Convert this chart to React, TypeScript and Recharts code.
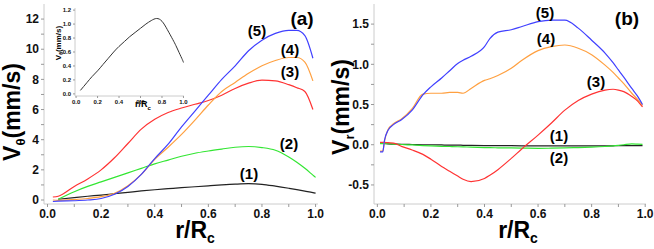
import { LineChart, Line, XAxis, YAxis } from 'recharts';

// panel (a): azimuthal velocity
const rA = [0.02, 0.04, 0.1, 0.15, 0.2, 0.25, 0.3, 0.35, 0.4, 0.45, 0.5, 0.55, 0.6, 0.65, 0.7, 0.75, 0.8, 0.85, 0.9, 0.93, 0.96, 0.99, 1.0];
const vt1 = [null, 0.05, 0.16, 0.25, 0.33, 0.42, 0.51, 0.6, 0.68, 0.75, 0.82, 0.88, 0.94, 1.0, 1.05, 1.08, 1.04, 0.92, 0.78, 0.69, 0.59, 0.49, 0.45];
const vt2 = [null, 0.05, 0.55, 0.9, 1.2, 1.5, 1.8, 2.1, 2.4, 2.65, 2.9, 3.1, 3.25, 3.38, 3.5, 3.55, 3.48, 3.3, 2.85, 2.5, 2.1, 1.65, 1.5];
const vt3 = [0.2, 0.25, 0.9, 1.4, 2.0, 2.8, 3.75, 4.7, 5.35, 5.8, 6.1, 6.35, 6.6, 6.95, 7.4, 7.75, 7.95, 7.9, 7.65, 7.45, 7.2, 6.0, null];
const vt4 = [0.0, -0.02, 0.03, 0.1, 0.22, 0.45, 0.95, 1.7, 2.7, 3.5, 4.35, 5.3, 6.3, 7.2, 7.8, 8.4, 8.9, 9.25, 9.45, 9.45, 9.15, 7.9, null];
const vt5 = [-0.1, -0.08, -0.05, 0.0, 0.1, 0.38, 0.9, 1.7, 2.75, 3.7, 4.85, 5.9, 6.95, 8.0, 8.9, 9.9, 10.6, 11.05, 11.25, 11.25, 10.9, 9.4, null];

// panel (b): radial velocity
const rB = [0.01, 0.02, 0.027, 0.04, 0.06, 0.09, 0.13, 0.17, 0.2, 0.24, 0.27, 0.3, 0.32, 0.35, 0.4, 0.42, 0.45, 0.5, 0.54, 0.6, 0.65, 0.7, 0.75, 0.8, 0.85, 0.88, 0.9, 0.92, 0.95, 0.97, 0.99];
const vr1 = [null, 0.02, 0.015, 0.01, 0.008, 0.005, 0.003, 0.0, 0.0, -0.003, -0.005, -0.005, -0.007, -0.008, -0.01, -0.011, -0.012, -0.012, -0.013, -0.015, -0.015, -0.015, -0.015, -0.015, -0.014, -0.013, -0.012, -0.012, -0.011, -0.01, -0.01];
const vr2 = [0.015, 0.015, 0.014, 0.012, 0.008, 0.003, -0.003, -0.01, -0.015, -0.02, -0.022, -0.025, -0.027, -0.03, -0.035, -0.037, -0.038, -0.04, -0.042, -0.045, -0.043, -0.04, -0.035, -0.03, -0.022, -0.015, -0.008, 0.0, 0.01, 0.008, 0.005];
const vr3 = [0.03, 0.03, 0.03, 0.025, 0.02, -0.02, -0.065, -0.12, -0.18, -0.27, -0.33, -0.39, -0.43, -0.46, -0.42, -0.38, -0.31, -0.17, -0.05, 0.12, 0.27, 0.43, 0.55, 0.63, 0.68, 0.69, 0.68, 0.66, 0.6, 0.55, 0.47];
const vr4 = [-0.08, -0.08, 0.05, 0.19, 0.26, 0.32, 0.45, 0.63, 0.64, 0.64, 0.65, 0.65, 0.64, 0.7, 0.8, 0.82, 0.86, 0.95, 1.05, 1.17, 1.22, 1.24, 1.2, 1.12, 0.99, 0.9, 0.83, 0.76, 0.64, 0.57, 0.49];
const vr5 = [-0.09, -0.09, 0.06, 0.18, 0.25, 0.31, 0.43, 0.62, 0.72, 0.83, 0.92, 1.01, 1.05, 1.1, 1.22, 1.32, 1.4, 1.43, 1.47, 1.53, 1.55, 1.55, 1.45, 1.3, 1.14, 1.02, 0.93, 0.84, 0.7, 0.61, 0.5];

const xTicks = [0, 0.1, 0.2, 0.3, 0.4, 0.5, 0.6, 0.7, 0.8, 0.9, 1.0];
const yTicksA = [0, 1, 2, 3, 4, 5, 6, 7, 8, 9, 10, 11, 12];
const yTicksB = [-0.5, -0.25, 0, 0.25, 0.5, 0.75, 1, 1.25, 1.5];
const insetXTicks = [0, 0.2, 0.4, 0.6, 0.8, 1.0];
const insetYTicks = [0, 0.2, 0.4, 0.6, 0.8, 1.0, 1.2];

const COLORS = ['#222222', '#33e633', '#ff3333', '#ffa040', '#4040ff'];
const FRAME = '#cccccc';
const FONT = '"Liberation Sans", Arial, Helvetica, sans-serif';

const dataA = rA.map((r, i) => ({ r, s1: vt1[i], s2: vt2[i], s3: vt3[i], s4: vt4[i], s5: vt5[i] }));
const dataB = rB.map((r, i) => ({ r, s1: vr1[i], s2: vr2[i], s3: vr3[i], s4: vr4[i], s5: vr5[i] }));
const dataInset = rA.map((r, i) => ({ r, v: vt1[i] })).filter((d) => d.v !== null);

const tickStyle = { fontSize: 12, fontWeight: 'bold', fill: '#111', fontFamily: FONT };
const fmtX = (v: number) => (Math.round(v * 10) % 2 === 0 ? v.toFixed(1) : '');
const fmtYA = (v: number) => (v % 2 === 0 ? String(v) : '');
const fmtYB = (v: number) => (Math.round(v * 4) % 2 === 0 ? v.toFixed(1) : '');

function Panel({ data, xDomain, yDomain, yTicks, fmtY, width, marginRight }: any) {
  return (
    <LineChart width={width} height={249} data={data} margin={{ top: 4, right: marginRight, bottom: 0, left: 0 }}>
      <XAxis
        type="number"
        dataKey="r"
        domain={xDomain}
        ticks={xTicks}
        interval={0}
        tickFormatter={fmtX}
        tickSize={3}
        height={45}
        axisLine={{ stroke: FRAME }}
        tickLine={{ stroke: '#999' }}
        tick={tickStyle}
      />
      <XAxis xAxisId="top" orientation="top" type="number" dataKey="r" domain={xDomain} height={0} tick={false} tickLine={false} axisLine={{ stroke: FRAME }} />
      <YAxis
        type="number"
        domain={yDomain}
        ticks={yTicks}
        interval={0}
        tickFormatter={fmtY}
        tickSize={3}
        width={44}
        axisLine={{ stroke: FRAME }}
        tickLine={{ stroke: '#999' }}
        tick={tickStyle}
      />
      <YAxis yAxisId="right" orientation="right" domain={yDomain} width={0} tick={false} tickLine={false} axisLine={{ stroke: FRAME }} />
      {['s1', 's2', 's3', 's4', 's5'].map((k, i) => (
        <Line key={k} type="monotone" dataKey={k} stroke={COLORS[i]} strokeWidth={1.2} dot={false} isAnimationActive={false} />
      ))}
    </LineChart>
  );
}

const label = { fontFamily: FONT, fontWeight: 'bold', fill: '#000' } as const;

export default function App() {
  return (
    <div style={{ position: 'absolute', left: 0, top: 0, width: 654, height: 249, background: '#fff' }}>
      <div style={{ position: 'absolute', left: 0, top: 0 }}>
        <Panel data={dataA} xDomain={[-0.013, 1.009]} yDomain={[-0.265, 13]} yTicks={yTicksA} fmtY={fmtYA} width={330} marginRight={12} />
      </div>
      <div style={{ position: 'absolute', left: 330, top: 0 }}>
        <Panel data={dataB} xDomain={[-0.0125, 1.003]} yDomain={[-0.737, 1.75]} yTicks={yTicksB} fmtY={fmtYB} width={324} marginRight={8} />
      </div>
      <div style={{ position: 'absolute', left: 50, top: 0 }}>
        <LineChart width={140} height={112} data={dataInset} margin={{ top: 8, right: 6, bottom: 0, left: 0 }}>
          <XAxis
            type="number"
            dataKey="r"
            domain={[-0.01, 1.005]}
            ticks={insetXTicks}
            interval={0}
            tickFormatter={(v: number) => v.toFixed(1)}
            tickSize={2}
            height={16}
            axisLine={{ stroke: FRAME }}
            tickLine={{ stroke: '#999' }}
            tick={{ ...tickStyle, fontSize: 6 }}
          />
          <XAxis xAxisId="top" orientation="top" type="number" dataKey="r" domain={[-0.01, 1.005]} height={0} tick={false} tickLine={false} axisLine={{ stroke: FRAME }} />
          <YAxis
            type="number"
            domain={[-0.03, 1.23]}
            ticks={insetYTicks}
            interval={0}
            tickFormatter={(v: number) => v.toFixed(1)}
            tickSize={2}
            width={25}
            axisLine={{ stroke: FRAME }}
            tickLine={{ stroke: '#999' }}
            tick={{ ...tickStyle, fontSize: 6 }}
          />
          <YAxis yAxisId="right" orientation="right" domain={[-0.03, 1.23]} width={0} tick={false} tickLine={false} axisLine={{ stroke: FRAME }} />
          <Line type="natural" dataKey="v" stroke="#333" strokeWidth={1} dot={false} isAnimationActive={false} />
        </LineChart>
      </div>
      <svg width={654} height={249} style={{ position: 'absolute', left: 0, top: 0, pointerEvents: 'none' }}>
        {/* axis titles */}
        <text {...label} fontSize={23} transform="translate(20,112) rotate(-90)" textAnchor="middle">
          V<tspan fontSize={13} dy={5}>θ</tspan>
          <tspan dy={-5}>(mm/s)</tspan>
        </text>
        <text {...label} fontSize={23} transform="translate(349,107) rotate(-90)" textAnchor="middle">
          V<tspan fontSize={13} dy={5}>r</tspan>
          <tspan dy={-5}>(mm/s)</tspan>
        </text>
        <text {...label} fontSize={23} x={195} y={238} textAnchor="middle">
          r/R<tspan fontSize={14} dy={5}>c</tspan>
        </text>
        <text {...label} fontSize={23} x={518} y={238} textAnchor="middle">
          r/R<tspan fontSize={14} dy={5}>c</tspan>
        </text>
        {/* inset titles */}
        <text {...label} fontSize={8} transform="translate(61,43) rotate(-90)" textAnchor="middle">
          V<tspan fontSize={5} dy={2}>θ</tspan>
          <tspan dy={-2}>(mm/s)</tspan>
        </text>
        <text {...label} fontSize={9} x={143} y={107} textAnchor="middle">
          r/R<tspan fontSize={6} dy={3}>c</tspan>
        </text>
        {/* panel letters */}
        <text {...label} fontSize={19} x={302} y={25} textAnchor="middle">(a)</text>
        <text {...label} fontSize={19} x={627} y={25} textAnchor="middle">(b)</text>
        {/* curve labels */}
        <text {...label} fontSize={15} x={257} y={36} textAnchor="middle">(5)</text>
        <text {...label} fontSize={15} x={290} y={55} textAnchor="middle">(4)</text>
        <text {...label} fontSize={15} x={290} y={77} textAnchor="middle">(3)</text>
        <text {...label} fontSize={15} x={289} y={149} textAnchor="middle">(2)</text>
        <text {...label} fontSize={15} x={249} y={179} textAnchor="middle">(1)</text>
        <text {...label} fontSize={15} x={545} y={18} textAnchor="middle">(5)</text>
        <text {...label} fontSize={15} x={546} y={44} textAnchor="middle">(4)</text>
        <text {...label} fontSize={15} x={596} y={87} textAnchor="middle">(3)</text>
        <text {...label} fontSize={15} x={559} y={141} textAnchor="middle">(1)</text>
        <text {...label} fontSize={15} x={559} y={163} textAnchor="middle">(2)</text>
      </svg>
    </div>
  );
}
